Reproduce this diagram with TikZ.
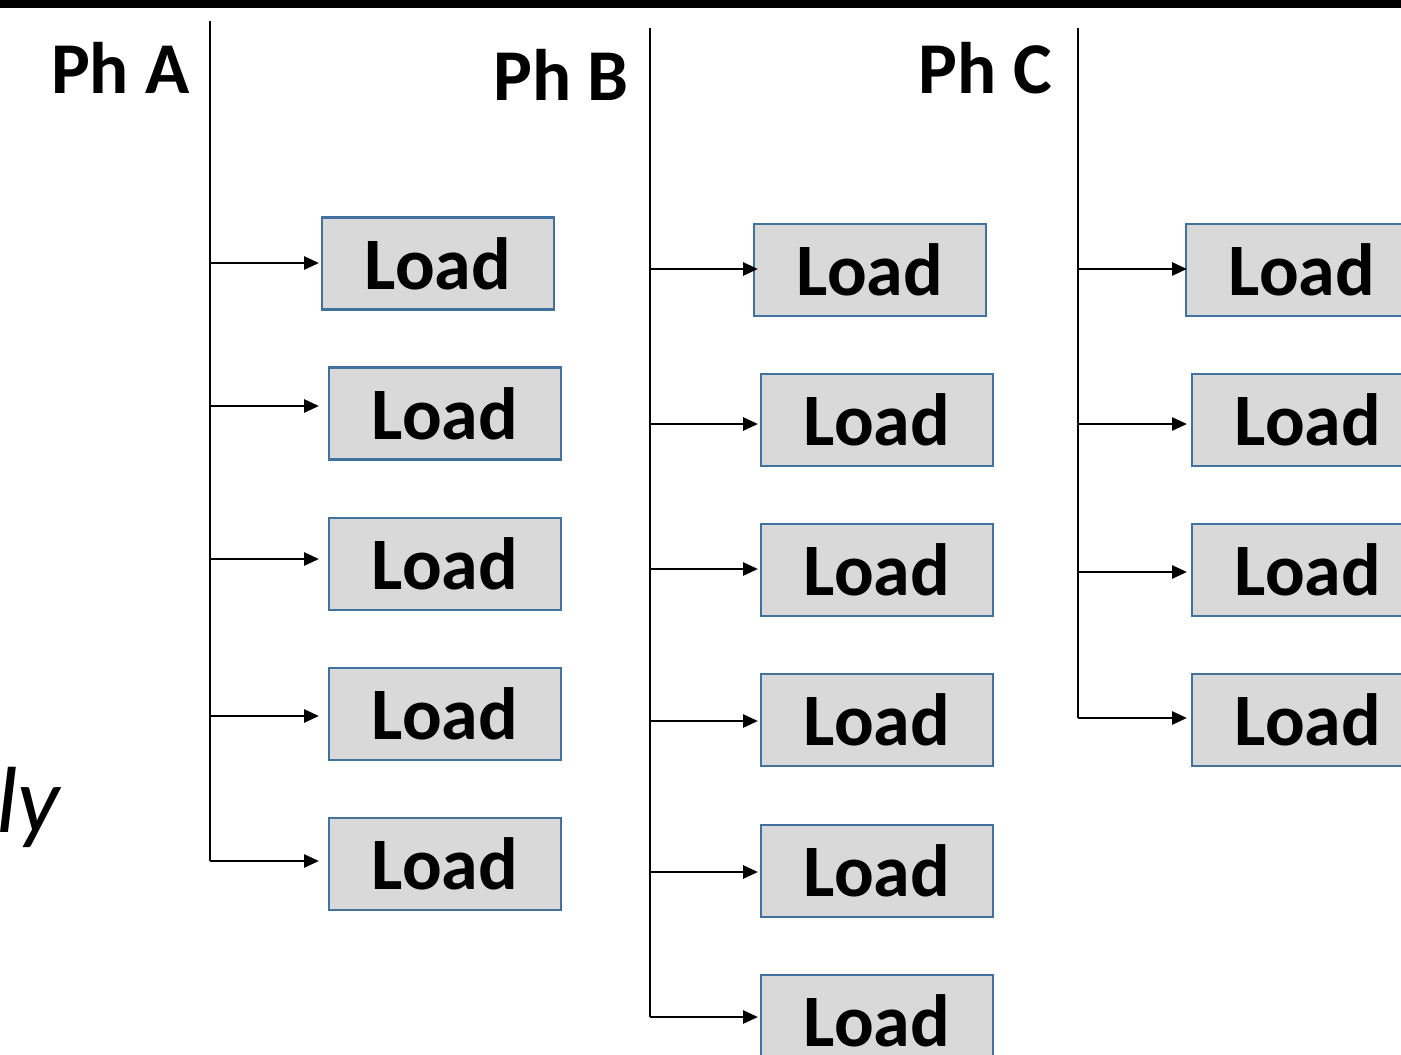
\documentclass[tikz,border=0pt]{standalone}
\usepackage{fontspec}
\setmainfont{Carlito}
\usetikzlibrary{arrows.meta}
\definecolor{boxfill}{HTML}{D9D9D9}
\definecolor{boxline}{HTML}{41719C}
\begin{document}
\begin{tikzpicture}[x=1pt,y=-1pt,
  loadbox/.style={draw=boxline,line width=2.5pt,fill=boxfill,minimum width=232pt,minimum height=92pt,inner sep=0pt,
    font=\fontsize{74}{90}\selectfont\bfseries},
  bus/.style={line width=2.8pt},
  arr/.style={line width=2.8pt,-{Triangle[length=15pt,width=13pt]}},
  phlabel/.style={anchor=base east,inner sep=0pt,font=\fontsize{73}{90}\selectfont\bfseries}]
\useasboundingbox (0,0) rectangle (1401,1055);
\clip (0,0) rectangle (1401,1055);
\fill (0,-2) rectangle (1401,8);
% labels
\node[phlabel] (la) at (190,93) {Ph A};
\node[phlabel] (lb) at (629,100) {Ph B};
\node[phlabel] (lc) at (1052,93) {Ph C};
\node[anchor=base east,inner sep=0pt,font=\fontsize{94}{100}\selectfont\itshape] (ly) at (60,832) {ly};
% Phase A
\coordinate (Atop) at (210,21);
\coordinate (Abot) at (210,861);
\draw[bus] (Atop) -- (Abot);
\foreach \i/\bx/\by/\ay in {1/438/263.5/263, 2/445/413.5/406, 3/445/564/559, 4/445/714/716, 5/445/864/861}{
  \node[loadbox] (a\i) at (\bx,\by) {Load};
  \coordinate (at\i) at (210,\ay);
  \coordinate (ae\i) at (319,\ay);
  \draw[arr] (at\i) -- (ae\i);
}
% Phase B
\coordinate (Btop) at (650,28);
\coordinate (Bbot) at (650,1017);
\draw[bus] (Btop) -- (Bbot);
\foreach \i/\bx/\by/\ay in {1/870/270/269, 2/877/420/424, 3/877/570/569, 4/877/720/721, 5/877/871/872, 6/877/1021/1017}{
  \node[loadbox] (b\i) at (\bx,\by) {Load};
  \coordinate (bt\i) at (650,\ay);
  \coordinate (be\i) at (758,\ay);
  \draw[arr] (bt\i) -- (be\i);
}
% Phase C
\coordinate (Ctop) at (1078,28);
\coordinate (Cbot) at (1078,718);
\draw[bus] (Ctop) -- (Cbot);
\foreach \i/\bx/\by/\ay in {1/1302/270/269, 2/1308/420/424, 3/1308/570/572, 4/1308/720/718}{
  \node[loadbox] (c\i) at (\bx,\by) {Load};
  \coordinate (ct\i) at (1078,\ay);
  \coordinate (ce\i) at (1187,\ay);
  \draw[arr] (ct\i) -- (ce\i);
}
\end{tikzpicture}
\end{document}
